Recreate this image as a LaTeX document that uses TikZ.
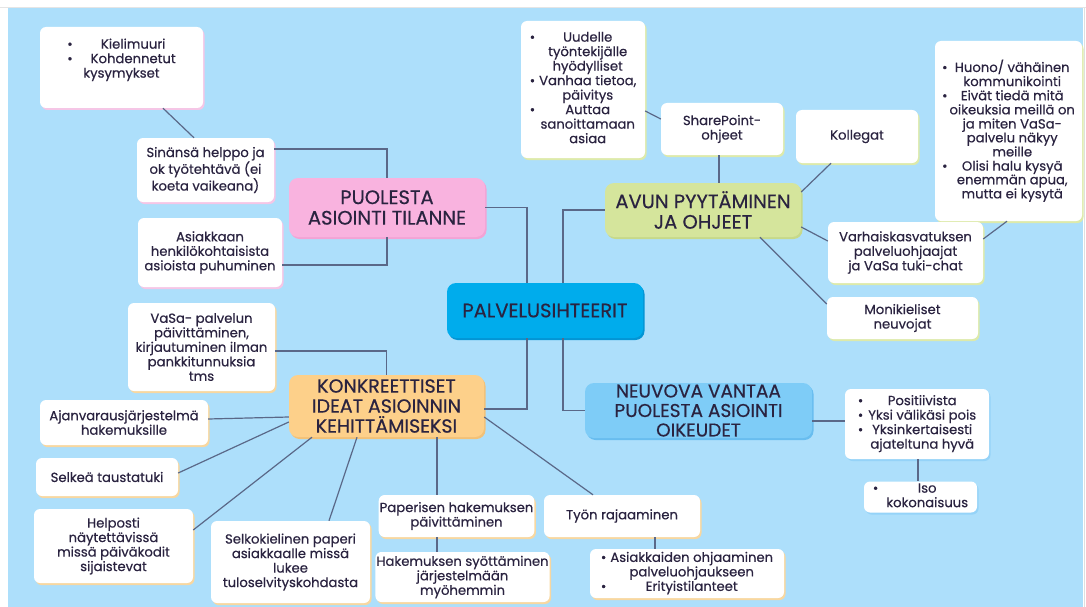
\documentclass[tikz,border=0pt]{standalone}
\usepackage{fontspec}
\setmainfont{Poppins}[FakeBold=0.5]
\usepackage{xcolor}
\usepackage{array}
\usetikzlibrary{shadows}

\definecolor{bgblue}{HTML}{ADDFFB}
\definecolor{ink}{HTML}{2A2340}
\definecolor{linecol}{HTML}{5A6888}
\definecolor{pinkfill}{HTML}{F9B3DF}
\definecolor{pinkedge}{HTML}{F3A3D5}
\definecolor{pinkrim}{HTML}{F5C6E6}
\definecolor{greenfill}{HTML}{D5E59C}
\definecolor{greenedge}{HTML}{C6D98A}
\definecolor{greenrim}{HTML}{DDEAAA}
\definecolor{bluefill}{HTML}{00ACEC}
\definecolor{blueedge}{HTML}{0395D4}
\definecolor{skyfill}{HTML}{7ECCF7}
\definecolor{skyedge}{HTML}{68BDEF}
\definecolor{skyrim}{HTML}{95D3F8}
\definecolor{orangefill}{HTML}{FDD08A}
\definecolor{orangeedge}{HTML}{F2C177}
\definecolor{orangerim}{HTML}{F8D7A0}

\newcommand{\bl}{\textbullet}

\begin{document}
\begin{tikzpicture}[x=1pt, y=-1pt,
  leaf/.style={rectangle, fill=white, rounded corners=6pt, align=center, text=ink,
               font=\fontsize{13.2}{14.5}\selectfont, inner sep=1pt},
  pinkleaf/.style={leaf, drop shadow={shadow xshift=1.5pt, shadow yshift=-2pt, fill=pinkrim, opacity=1}},
  greenleaf/.style={leaf, drop shadow={shadow xshift=1.5pt, shadow yshift=-2pt, fill=greenrim, opacity=1}},
  orangeleaf/.style={leaf, drop shadow={shadow xshift=1.5pt, shadow yshift=-2pt, fill=orangerim, opacity=1}},
  skyleaf/.style={leaf, drop shadow={shadow xshift=1.5pt, shadow yshift=-2pt, fill=skyrim, opacity=1}},
  topic/.style={rectangle, rounded corners=9pt, align=center, text=ink,
                font=\fontsize{19.5}{20.5}\selectfont, inner sep=1pt},
  link/.style={draw=linecol, line width=1.2pt}
]
\useasboundingbox (0,0) rectangle (1086,607);
\fill[white] (0,0) rectangle (1086,607);
\fill[bgblue] (8,8) rectangle (1083,607);
\draw[gray!20, line width=0.8pt] (0,7.5) -- (1086,7.5);
\draw[gray!25, line width=1.5pt] (1084.5,8) -- (1084.5,607);

% keskus ja paahaarat
\node[topic, fill=bluefill, minimum width=196pt, minimum height=55pt,
      drop shadow={shadow xshift=1.5pt, shadow yshift=-2pt, fill=blueedge, opacity=1}]
      (palvelu) at (545,310.5) {PALVELUSIHTEERIT};
\node[topic, fill=pinkfill, minimum width=196pt, minimum height=59pt,
      drop shadow={shadow xshift=1.5pt, shadow yshift=-2pt, fill=pinkedge, opacity=1}]
      (puolesta) at (387,207.5) {PUOLESTA\\ASIOINTI TILANNE};
\node[topic, fill=greenfill, minimum width=196pt, minimum height=54pt,
      drop shadow={shadow xshift=1.5pt, shadow yshift=-2pt, fill=greenedge, opacity=1}]
      (avun) at (703,210) {AVUN PYYTÄMINEN\\JA OHJEET};
\node[topic, fill=orangefill, minimum width=195pt, minimum height=62pt,
      font=\fontsize{19}{20}\selectfont,
      drop shadow={shadow xshift=1.5pt, shadow yshift=-2pt, fill=orangeedge, opacity=1}]
      (konk) at (386.5,406) {KONKREETTISET\\IDEAT ASIOINNIN\\KEHITTÄMISEKSI};
\node[topic, fill=skyfill, minimum width=227pt, minimum height=55pt,
      font=\fontsize{18.5}{19.5}\selectfont,
      drop shadow={shadow xshift=1.5pt, shadow yshift=-2pt, fill=skyedge, opacity=1}]
      (neuvova) at (698.5,410.5) {NEUVOVA VANTAA\\PUOLESTA ASIOINTI\\OIKEUDET};

% puolesta asiointi
\node[pinkleaf, minimum width=163pt, minimum height=81pt] (kieli) at (121.5,67.5)
  {\begin{tabular}{@{}c@{\hspace{18pt}}c@{}}
   \bl & Kielimuuri\\ \bl & Kohdennetut\\ \multicolumn{2}{c}{kysymykset}\\ & \end{tabular}};
\node[pinkleaf, minimum width=137pt, minimum height=64pt] (sinansa) at (205.5,170)
  {Sinänsä helppo ja\\ok työtehtävä (ei\\koeta vaikeana)};
\node[pinkleaf, minimum width=144pt, minimum height=69pt] (asiakkaan) at (210,252.5)
  {Asiakkaan\\henkilökohtaisista\\asioista puhuminen};

% avun pyytaminen
\node[greenleaf, minimum width=124pt, minimum height=137pt] (uudelle) at (583,89.5)
  {\begin{tabular}{@{}c@{\hspace{4pt}}c@{}}
   \bl & Uudelle\\ & työntekijälle\\ & hyödylliset\\ \bl & Vanhaa tietoa,\\ & päivitys\\
   \bl & Auttaa\\ & sanoittamaan\\ & asiaa \end{tabular}};
\node[greenleaf, minimum width=122pt, minimum height=52pt] (sharepoint) at (722,129)
  {SharePoint-\\ohjeet};
\node[greenleaf, minimum width=122pt, minimum height=53pt] (kollegat) at (857,136.5)
  {Kollegat};
\node[greenleaf, minimum width=147pt, minimum height=180pt,
      font=\fontsize{13.2}{13.6}\selectfont] (huono) at (1008.5,131)
  {\begin{tabular}{@{}c@{\hspace{2pt}}c@{}}
   \bl & Huono/ vähäinen\\ & kommunikointi\\ \bl & Eivät tiedä mitä\\ & oikeuksia meillä on\\
   & ja miten VaSa-\\ & palvelu näkyy\\ & meille\\ \bl & Olisi halu kysyä\\ & enemmän apua,\\
   & mutta ei kysytä \end{tabular}};
\node[greenleaf, minimum width=155pt, minimum height=61pt] (varhais) at (905.5,252.5)
  {Varhaiskasvatuksen\\palveluohjaajat\\ja VaSa tuki-chat};
\node[greenleaf, minimum width=151pt, minimum height=42pt] (moni) at (902.5,318)
  {Monikieliset\\neuvojat};

% neuvova vantaa
\node[skyleaf, minimum width=144pt, minimum height=70pt] (posit) at (917,424)
  {\begin{tabular}{@{}c@{\hspace{5pt}}c@{}}
   \bl & Positiivista\\ \bl & Yksi välikäsi pois\\ \bl & Yksinkertaisesti\\ & ajateltuna hyvä
   \end{tabular}};
\node[skyleaf, minimum width=113pt, minimum height=30pt] (iso) at (920.5,497)
  {\begin{tabular}{@{}c@{\hspace{8pt}}c@{}} \bl & Iso\\ & kokonaisuus \end{tabular}};

% konkreettiset ideat
\node[orangeleaf, minimum width=147pt, minimum height=88pt] (vasa) at (201.5,347)
  {VaSa- palvelun\\päivittäminen,\\kirjautuminen ilman\\pankkitunnuksia\\tms};
\node[orangeleaf, minimum width=168pt, minimum height=45pt] (ajan) at (124,422.5)
  {Ajanvarausjärjestelmä\\hakemuksille};
\node[orangeleaf, minimum width=142pt, minimum height=38pt] (selkea) at (107,477)
  {Selkeä taustatuki};
\node[orangeleaf, minimum width=159pt, minimum height=74pt] (helposti) at (113.5,546)
  {Helposti\\näytettävissä\\missä päiväkodit\\sijaistevat};
\node[orangeleaf, minimum width=159pt, minimum height=82pt] (selko) at (290.5,562)
  {Selkokielinen paperi\\asiakkaalle missä\\lukee\\tuloselvityskohdasta};
\node[orangeleaf, minimum width=155pt, minimum height=42pt] (paperi) at (456.5,516)
  {Paperisen hakemuksen\\päivittäminen};
\node[orangeleaf, minimum width=167pt, minimum height=50pt] (hakem) at (462.5,577)
  {Hakemuksen syöttäminen\\järjestelmään\\myöhemmin};
\node[orangeleaf, minimum width=156pt, minimum height=42pt] (tyon) at (622,516)
  {Työn rajaaminen};
\node[orangeleaf, minimum width=194pt, minimum height=49pt] (asiakk) at (687,573.5)
  {\begin{tabular}{@{}c@{\hspace{4pt}}c@{}}
   \bl & Asiakkaiden ohjaaminen\\ & palveluohjaukseen\\ \bl & Erityistilanteet \end{tabular}};

% yhteydet
\draw[link] (puolesta.east) -| ([xshift=-18pt]palvelu.north);
\draw[link] (avun.west) -| ([xshift=18pt]palvelu.north);
\draw[link] ([xshift=-18pt]palvelu.south) |- ([yshift=-3pt]konk.east);
\draw[link] ([xshift=18pt]palvelu.south) |- (neuvova.west);
\draw[link] ([xshift=41.5pt]kieli.south) -- ([xshift=-11.5pt]sinansa.north);
\draw[link] ([yshift=21pt]sinansa.east) -| (puolesta.north);
\draw[link] ([yshift=-12.5pt]asiakkaan.east) -| (puolesta.south);
\draw[link] ([yshift=-21.5pt]uudelle.east) -- ([yshift=10pt]sharepoint.west);
\draw[link] ([xshift=-3pt]sharepoint.south) -- ([xshift=16pt]avun.north);
\draw[link] ([xshift=-26pt]kollegat.south) -- ([yshift=18pt]avun.east);
\draw[link] ([yshift=-17pt]avun.east) -- ([yshift=11.5pt]varhais.west);
\draw[link] ([xshift=-1.5pt]huono.south) -- ([yshift=13.5pt]varhais.east);
\draw[link] ([xshift=57pt]avun.south) -- ([yshift=14pt]moni.west);
\draw[link] ([yshift=-10.5pt]neuvova.east) -- ([yshift=3pt]posit.west);
\draw[link] ([xshift=1pt]posit.south) -- ([xshift=-2.5pt]iso.north);
\draw[link] ([yshift=-4pt]vasa.east) -| (konk.north);
\draw[link] ([yshift=3.5pt]ajan.east) -- ([yshift=-11pt]konk.west);
\draw[link] ([yshift=4pt]selkea.east) -- ([yshift=-16pt]konk.west);
\draw[link] ([yshift=16pt]helposti.east) -- ([xshift=-74.5pt]konk.south);
\draw[link] ([xshift=38.5pt]selko.north) -- ([xshift=-29.5pt]konk.south);
\draw[link] ([xshift=50.5pt]konk.south) -- ([xshift=-19.5pt]paperi.north);
\draw[link] ([xshift=-19.5pt]paperi.south) -- ([xshift=-25.5pt]hakem.north);
\draw[link] ([yshift=-11pt]konk.east) -- ([xshift=-29pt]tyon.north);
\draw[link] ([xshift=33pt]tyon.south) -- ([xshift=-32pt]asiakk.north);
\end{tikzpicture}
\end{document}
